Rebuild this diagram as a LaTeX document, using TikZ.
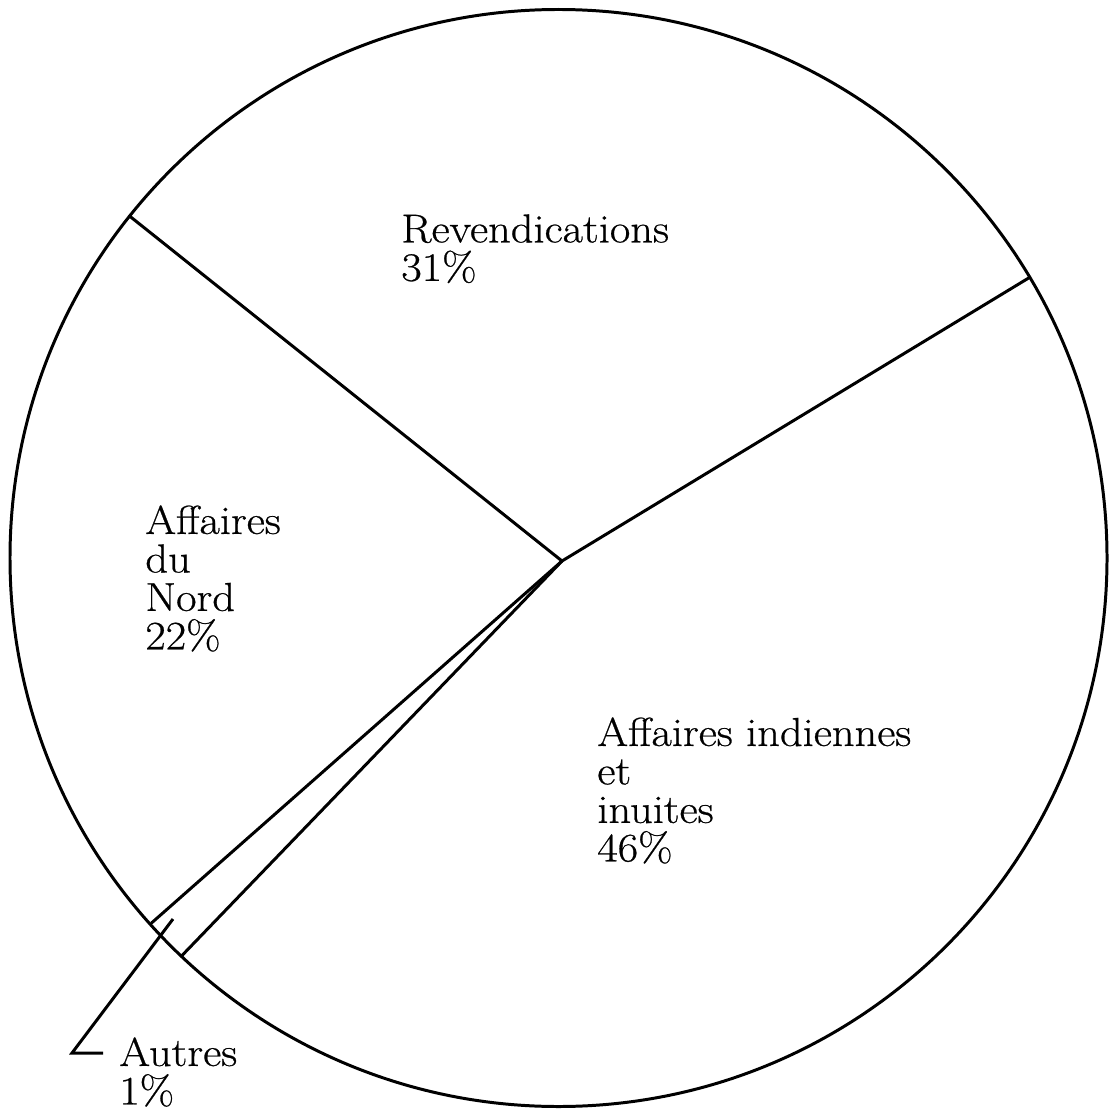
\documentclass[tikz,border=0pt]{standalone}
\usepackage{fontspec}
\setmainfont{Latin Modern Roman}[FakeStretch=1.1,FakeBold=0.6]
\usetikzlibrary{calc}
\begin{document}
\begin{tikzpicture}[x=0.02cm,y=-0.02cm,
  rim/.style={line width=1.7pt},
  cut/.style={line width=1.7pt, line cap=round},
  lbl/.style={anchor=north west, inner sep=0pt, align=left,
    font=\fontsize{23}{21.9}\selectfont}]
  \useasboundingbox (0,0) rectangle (1108,1114);
  % pie outline
  \coordinate (C) at (558.5,558);
  \draw[rim] (C) circle[radius=548.5];
  % hub where the slice boundaries meet
  \coordinate (hub) at (562,561);
  % slice boundaries on the rim
  \coordinate (rNW) at (129.6,216.1);
  \coordinate (rNE) at (1029.8,277.3);
  \coordinate (rSW1) at (151.5,923.0);
  \coordinate (rSW2) at (182.0,955.5);
  \draw[cut] (hub) -- (rNW);
  \draw[cut] (hub) -- (rNE);
  \draw[cut] (hub) -- (rSW1);
  \draw[cut] (hub) -- (rSW2);
  % labels
  \node[lbl] (rev) at (401,214) {Revendications\\31\%};
  \node[lbl] (nord) at (145,505) {Affaires\\du\\Nord\\22\%};
  \node[lbl] (ind) at (597,717) {Affaires indiennes\\et\\inuites\\46\%};
  \node[lbl] (aut) at (119,1037) {Autres\\1\%};
  % leader from the thin slice to its label
  \coordinate (tick) at (173,919);
  \coordinate (elbow) at (72,1053);
  \coordinate (lead) at (103,1053);
  \draw[cut, line cap=butt] (tick) -- (elbow) -- (lead);
\end{tikzpicture}
\end{document}
